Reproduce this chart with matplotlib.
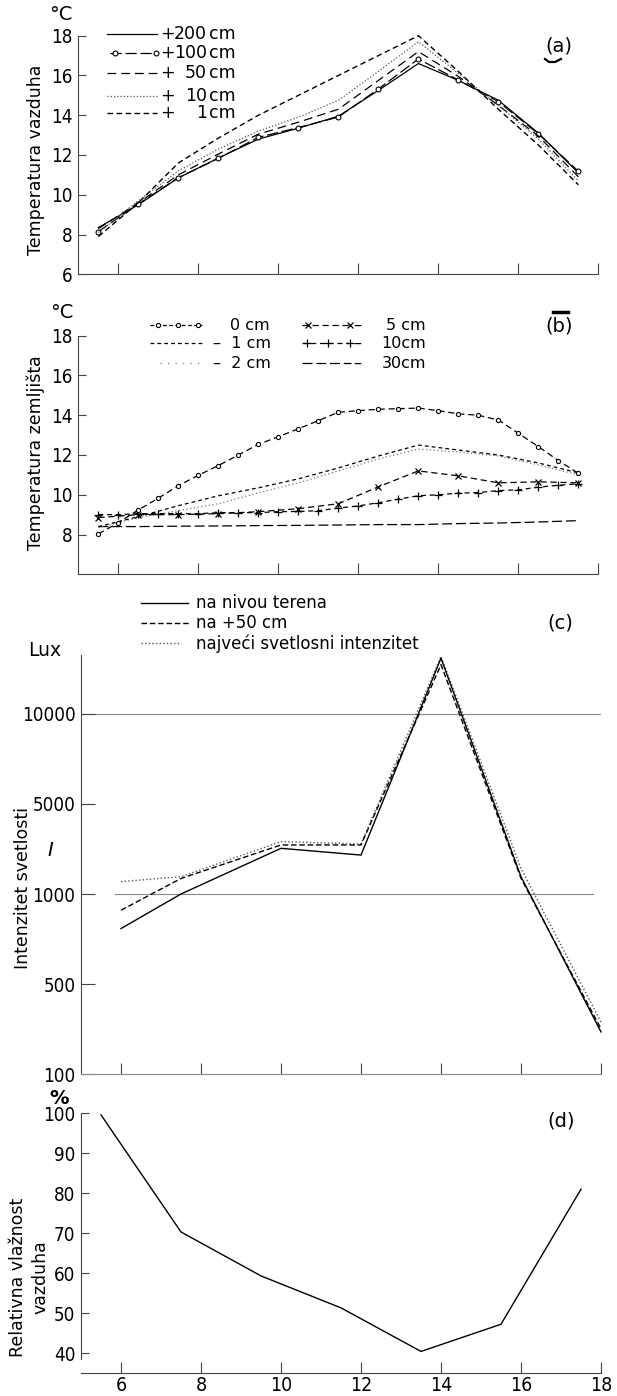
import numpy as np
import matplotlib
matplotlib.use('Agg')
import matplotlib.pyplot as plt
from matplotlib.lines import Line2D
from matplotlib import font_manager

# ---------------- data ----------------
hours_a = [5.5, 6.5, 7.5, 8.5, 9.5, 10.5, 11.5, 12.5, 13.5, 14.5, 15.5, 16.5, 17.5]
air_200 = [8.35, 9.5, 10.85, 11.85, 12.8, 13.35, 13.95, 15.25, 16.6, 15.75, 14.75, 13.1, 11.1]
air_100 = [8.15, 9.54, 10.86, 11.83, 12.89, 13.38, 13.91, 15.32, 16.83, 15.77, 14.68, 13.06, 11.18]
air_50 = [8.3, 9.6, 11.0, 12.05, 13.05, 13.65, 14.3, 15.75, 17.2, 15.95, 14.5, 12.95, 10.9]
air_10 = [8.1, 9.7, 11.2, 12.3, 13.2, 13.9, 14.75, 16.2, 17.7, 16.1, 14.5, 12.8, 10.7]
air_1 = [7.9, 9.6, 11.6, 12.85, 14.0, 15.0, 16.0, 17.0, 18.0, 16.2, 14.3, 12.5, 10.5]

hours_b_half = [5.5, 6.0, 6.5, 7.0, 7.5, 8.0, 8.5, 9.0, 9.5, 10.0, 10.5, 11.0, 11.5,
                12.0, 12.5, 13.0, 13.5, 14.0, 14.5, 15.0, 15.5, 16.0, 16.5, 17.0, 17.5]
soil_0 = [8.03, 8.6, 9.24, 9.83, 10.46, 10.98, 11.47, 12.0, 12.54, 12.92, 13.32, 13.73, 14.15,
          14.23, 14.3, 14.33, 14.36, 14.23, 14.07, 14.0, 13.76, 13.09, 12.42, 11.72, 11.08]
soil_10 = [9.0, 9.0, 9.05, 9.05, 9.05, 9.05, 9.1, 9.1, 9.1, 9.15, 9.16, 9.2, 9.33,
           9.44, 9.6, 9.78, 9.95, 10.0, 10.08, 10.11, 10.21, 10.25, 10.38, 10.48, 10.55]
hours_b = [5.5, 6.5, 7.5, 8.5, 9.5, 10.5, 11.5, 12.5, 13.5, 14.5, 15.5, 16.5, 17.5]
soil_1 = [8.4, 8.9, 9.45, 9.95, 10.35, 10.8, 11.35, 11.95, 12.5, 12.25, 12.0, 11.6, 11.1]
soil_2 = [8.35, 8.85, 9.2, 9.55, 10.1, 10.6, 11.2, 11.8, 12.3, 12.15, 11.95, 11.5, 11.0]
soil_5 = [8.85, 9.0, 9.0, 9.05, 9.15, 9.3, 9.55, 10.4, 11.2, 10.95, 10.6, 10.65, 10.6]
soil_30 = [8.4, 8.4, 8.42, 8.43, 8.45, 8.46, 8.48, 8.5, 8.5, 8.55, 8.58, 8.63, 8.7]

hours_c = [6, 7.5, 10, 12, 14, 16, 18]
lux_ground = [808, 1000, 3030, 2730, 13100, 1770, 287]
lux_50 = [910, 1690, 3180, 3180, 12740, 1700, 301]
lux_max = [1550, 1770, 3330, 3220, 13200, 2140, 331]
lux_ticks = [100, 500, 1000, 5000, 10000]

hours_d = [5.5, 7.5, 9.5, 11.5, 13.5, 15.5, 17.5]
humidity = [99.6, 70.3, 59.3, 51.3, 40.4, 47.2, 81.0]

x_ticks = [6, 8, 10, 12, 14, 16, 18]

# ---------------- fonts ----------------
_files = font_manager.findSystemFonts()
_has_cond = any('DejaVuSansCondensed' in f for f in _files)
STRETCH = 'condensed' if _has_cond else 'normal'
plt.rcParams['font.family'] = ['DejaVu Sans']

W, H = 617, 1396
fig = plt.figure(figsize=(W / 100, H / 100), dpi=100)
fig.patch.set_facecolor('white')


def rect(left, top, right, bottom):
    return [left / W, 1 - bottom / H, (right - left) / W, (bottom - top) / H]


def fx(x):
    return x / W


def fy(y):
    return 1 - y / H


SPC = '#444444'


def set_stretch(ax):
    for lab in ax.get_xticklabels() + ax.get_yticklabels():
        lab.set_fontstretch(STRETCH)


def style_axes(ax, show_xlabels=False):
    for s in ['top', 'right']:
        ax.spines[s].set_visible(False)
    for s in ['left', 'bottom']:
        ax.spines[s].set_color(SPC)
        ax.spines[s].set_linewidth(0.8)
    ax.set_xlim(5.0, 18.0)
    ax.set_xticks(x_ticks)
    ax.tick_params(axis='x', direction='in', length=8, width=0.8, color=SPC,
                   labelbottom=show_xlabels, pad=2, labelsize=14)
    ax.tick_params(axis='y', direction='in', length=6, width=0.8, color=SPC,
                   labelsize=13.5, pad=4)


def ftext(x, y, s, size=12, ha='left', va='center', **kw):
    fig.text(fx(x), fy(y), s, fontsize=size, ha=ha, va=va, **kw)


def fline(x0, x1, y, **kw):
    fig.add_artist(Line2D([fx(x0), fx(x1)], [fy(y), fy(y)], transform=fig.transFigure, **kw))


def fmarks(xs, y, **kw):
    fig.add_artist(Line2D([fx(x) for x in xs], [fy(y)] * len(xs), transform=fig.transFigure,
                          ls='none', **kw))


LW = 0.9

# ---------------- panel (a) ----------------
ax_a = fig.add_axes(rect(78.4, 35.7, 598.4, 274.3))
style_axes(ax_a)
ax_a.set_ylim(6, 18)
ax_a.set_yticks([6, 8, 10, 12, 14, 16, 18])
set_stretch(ax_a)
st_200 = dict(color='black', lw=LW, ls='-')
st_100 = dict(color='black', lw=LW, ls=(0, (9, 3)))
mk_o = dict(marker='o', ms=3.5, mfc='white', mew=0.8, color='black')
st_50 = dict(color='black', lw=LW, ls=(0, (7, 4)))
st_10 = dict(color='#555555', lw=LW, ls=(0, (1, 1.6)))
st_1 = dict(color='black', lw=1.0, ls=(0, (4, 2.5)))
ax_a.plot(hours_a, air_200, clip_on=False, **st_200)
ax_a.plot(hours_a, air_100, clip_on=False, **st_100, **{k: v for k, v in mk_o.items() if k != 'color'})
ax_a.plot(hours_a, air_50, clip_on=False, **st_50)
ax_a.plot(hours_a, air_10, clip_on=False, **st_10)
ax_a.plot(hours_a, air_1, clip_on=False, **st_1)

ftext(61, 15, '°C', size=14, ha='center')
fig.text(fx(36), fy(160), 'Temperatura vazduha', rotation=90, fontsize=12.5,
         ha='center', va='center')
ftext(559, 46, '(a)', size=14, ha='center')
fig.add_artist(Line2D([fx(545), fx(549), fx(555), fx(561)], [fy(59), fy(62), fy(62), fy(59)],
                      transform=fig.transFigure, color='black', lw=1.6))

# legend (a)
leg_a = [(34.3, st_200, '200'), (53.3, st_100, '100'), (73.3, st_50, '50'),
         (96, st_10, '10'), (113.3, st_1, '1')]
for y, st, num in leg_a:
    if num == '100':
        fline(110, 157, y, **st)
        fmarks([115, 156], y, **mk_o)
    else:
        fline(107, 157, y, **st)
    ftext(167.5, y, '+', size=12.5, ha='center')
    ftext(207, y, num, size=12.5, ha='right')
    ftext(209, y, 'cm', size=12.5, ha='left')

# ---------------- panel (b) ----------------
ax_b = fig.add_axes(rect(78.4, 335.7, 598.4, 574.3))
style_axes(ax_b)
ax_b.set_ylim(6, 18)
ax_b.set_yticks([8, 10, 12, 14, 16, 18])
set_stretch(ax_b)
sb_0 = dict(color='black', lw=LW, ls=(0, (5, 3)))
mk_o_s = dict(marker='o', ms=3, mfc='white', mew=0.8, color='black')
sb_1 = dict(color='black', lw=LW, ls=(0, (3, 2.5)))
sb_2 = dict(color='#777777', lw=LW, ls=(0, (1, 2)))
sb_5 = dict(color='black', lw=LW, ls=(0, (5, 3)))
mk_x = dict(marker='x', ms=4, mew=0.9, color='black')
sb_10 = dict(color='black', lw=LW, ls=(0, (4, 3)))
mk_p = dict(marker='+', ms=5.5, mew=0.9, color='black')
sb_30 = dict(color='black', lw=LW, ls=(0, (8, 3)))


def nocol(d):
    return {k: v for k, v in d.items() if k != 'color'}


ax_b.plot(hours_b, soil_30, clip_on=False, **sb_30)
ax_b.plot(hours_b, soil_2, clip_on=False, **sb_2)
ax_b.plot(hours_b, soil_1, clip_on=False, **sb_1)
ax_b.plot(hours_b, soil_5, clip_on=False, **sb_5, **nocol(mk_x))
ax_b.plot(hours_b_half, soil_10, clip_on=False, **sb_10, **nocol(mk_p))
ax_b.plot(hours_b_half, soil_0, clip_on=False, **sb_0, **nocol(mk_o_s))

ftext(62, 313, '°C', size=14, ha='center')
fig.text(fx(36), fy(453), 'Temperatura zemljišta', rotation=90, fontsize=12.5,
         ha='center', va='center')
ftext(559, 326, '(b)', size=14, ha='center')
fline(553, 568, 311.5, color='black', lw=2.5)

# legend (b)
rows_b = [325, 343.3, 363.3]
fline(150, 202, rows_b[0], **{**sb_0, 'ls': (0, (3, 2))})
fmarks([158, 178, 198], rows_b[0], **mk_o_s)
fline(150, 202, rows_b[1], **sb_1)
fline(160, 200, rows_b[2], **{**sb_2, 'ls': (0, (1, 5))})
ftext(230, rows_b[0], '0 cm', size=11.5)
ftext(213, rows_b[1], '–  1 cm', size=11.5)
ftext(213, rows_b[2], '–  2 cm', size=11.5)
fline(302, 351, rows_b[0], **sb_5)
fmarks([308, 350], rows_b[0], **mk_x)
fline(302, 351, rows_b[1], **sb_10)
fmarks([307, 328, 350], rows_b[1], **mk_p)
fline(302, 351, rows_b[2], **sb_30)
for y, s in zip(rows_b, ['5 cm', '10cm', '30cm']):
    ftext(357, y, '–', size=11.5, ha='center')
    ftext(426, y, s, size=11.5, ha='right')

# ---------------- panel (c) ----------------
LT = np.array(lux_ticks, dtype=float)
LI = np.arange(len(lux_ticks), dtype=float)


def lux_fwd(v):
    v = np.asarray(v, dtype=float)
    out = np.interp(v, LT, LI)
    out = np.where(v > LT[-1], LI[-1] + (v - LT[-1]) / (LT[-1] - LT[-2]), out)
    out = np.where(v < LT[0], (v - LT[0]) / (LT[1] - LT[0]), out)
    return out


def lux_inv(u):
    u = np.asarray(u, dtype=float)
    out = np.interp(u, LI, LT)
    out = np.where(u > LI[-1], LT[-1] + (u - LI[-1]) * (LT[-1] - LT[-2]), out)
    out = np.where(u < LI[0], LT[0] + u * (LT[1] - LT[0]), out)
    return out


ax_c = fig.add_axes(rect(81, 654.6, 601, 1074))
style_axes(ax_c)
ax_c.set_yscale('function', functions=(lux_fwd, lux_inv))
ax_c.set_ylim(100, 13300)
ax_c.set_yticks(lux_ticks)
ax_c.set_yticklabels([str(t) for t in lux_ticks])
ax_c.minorticks_off()
ax_c.tick_params(axis='y', direction='in', length=10, width=0.8, color=SPC, labelsize=13.5, pad=4)
set_stretch(ax_c)
ax_c.spines['bottom'].set_color('#888888')
ax_c.axhline(10000, color='#888888', lw=0.8, zorder=1)
ax_c.axhline(1000, xmin=(5.85 - 5) / 13, xmax=(17.8 - 5) / 13, color='#888888', lw=0.8, zorder=1)
sc_g = dict(color='black', lw=1.0, ls='-')
sc_50 = dict(color='black', lw=1.0, ls=(0, (4, 2)))
sc_m = dict(color='#555555', lw=1.0, ls=(0, (1, 1.6)))
ax_c.plot(hours_c, lux_max, clip_on=False, **sc_m)
ax_c.plot(hours_c, lux_50, clip_on=False, **sc_50)
ax_c.plot(hours_c, lux_ground, clip_on=False, **sc_g)

ftext(45, 650, 'Lux', size=13.5, ha='center')
fig.text(fx(23), fy(888), 'Intenzitet svetlosti', rotation=90, fontsize=12.5,
         ha='center', va='center')
ftext(50, 850, 'I', size=14, ha='center', style='italic')
ftext(560, 623, '(c)', size=14, ha='center')

rows_c = [603.3, 623.3, 643.3]
fline(141, 188, rows_c[0], **sc_g)
fline(141, 190, rows_c[1], **sc_50)
fline(141, 181, rows_c[2], **sc_m)
ftext(196, rows_c[0], 'na nivou terena', size=12)
ftext(196, rows_c[1], 'na +50 cm', size=12)
ftext(196, rows_c[2], 'najveći svetlosni intenzitet', size=12)

# ---------------- panel (d) ----------------
ax_d = fig.add_axes(rect(81, 1113.3, 601, 1373))
style_axes(ax_d, show_xlabels=True)
ax_d.set_ylim(35, 100)
ax_d.set_yticks([40, 50, 60, 70, 80, 90, 100])
set_stretch(ax_d)
ax_d.spines['left'].set_bounds(38.5, 100)
ax_d.plot(hours_d, humidity, color='black', lw=1.0, clip_on=False)

ftext(59, 1098, '%', size=14, ha='center', weight='bold')
fig.text(fx(18), fy(1277), 'Relativna vlažnost', rotation=90, fontsize=12.5,
         ha='center', va='center')
fig.text(fx(40), fy(1277), 'vazduha', rotation=90, fontsize=12.5,
         ha='center', va='center')
ftext(561, 1121, '(d)', size=14, ha='center')

fig.savefig('out.png', dpi=100, facecolor='white')
